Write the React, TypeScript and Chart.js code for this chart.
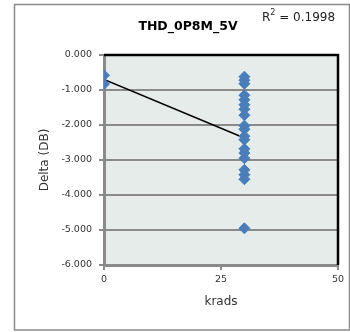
import React, { useEffect, useRef } from "react";
import { Chart, registerables } from "chart.js";

Chart.register(...registerables);

const chartTitle = "THD_0P8M_5V";
const r2Text = "0.1998";
const xAxisTitle = "krads";
const yAxisTitle = "Delta (DB)";

const kradsValues = [
  0, 0,
  30, 30, 30, 30, 30, 30, 30, 30, 30, 30, 30, 30, 30, 30, 30, 30, 30, 30, 30,
];
const deltaValues = [
  -0.58, -0.83,
  -0.62, -0.72, -0.82, -1.15, -1.28, -1.42, -1.55, -1.72, -2.02, -2.12, -2.32,
  -2.42, -2.68, -2.8, -2.95, -3.28, -3.42, -3.55, -4.95,
];

const trendKrads = [0, 30];
const trendDelta = [-0.7, -2.37];

const xMin = 0;
const xMax = 50;
const xStep = 25;
const yMin = -6;
const yMax = 0;
const yStep = 1;

const framePlugin = {
  id: "frame",
  beforeDraw(chart: any) {
    const { ctx, chartArea } = chart;
    ctx.save();
    ctx.fillStyle = "#ffffff";
    ctx.fillRect(0, 0, chart.width, chart.height);
    ctx.fillStyle = "#e6ecea";
    ctx.fillRect(chartArea.left, chartArea.top, chartArea.right - chartArea.left, chartArea.bottom - chartArea.top);
    ctx.strokeStyle = "#8a8a8a";
    ctx.lineWidth = 1.5;
    ctx.strokeRect(14.5, 4.5, 335, 325.5);
    ctx.restore();
  },
  beforeDatasetsDraw(chart: any) {
    const { ctx, chartArea } = chart;
    ctx.save();
    ctx.strokeStyle = "#000000";
    ctx.lineWidth = 2.5;
    ctx.beginPath();
    ctx.moveTo(chartArea.left, chartArea.top);
    ctx.lineTo(chartArea.right, chartArea.top);
    ctx.lineTo(chartArea.right, chartArea.bottom);
    ctx.stroke();
    ctx.restore();
  },
  afterDraw(chart: any) {
    const { ctx } = chart;
    ctx.save();
    ctx.fillStyle = "#000000";
    ctx.textBaseline = "middle";
    ctx.textAlign = "center";
    ctx.font = "bold 12.5px 'DejaVu Sans'";
    ctx.fillText(chartTitle, 188, 27);
    ctx.textAlign = "left";
    ctx.fillStyle = "#222222";
    ctx.font = "12px 'DejaVu Sans'";
    let x = 262;
    ctx.fillText("R", x, 18);
    x += ctx.measureText("R").width;
    ctx.font = "8px 'DejaVu Sans'";
    ctx.fillText("2", x, 13);
    x += ctx.measureText("2").width;
    ctx.font = "12px 'DejaVu Sans'";
    ctx.fillText(" = " + r2Text, x, 18);
    ctx.restore();
  },
};

export default function App() {
  const canvasRef = useRef<HTMLCanvasElement | null>(null);

  useEffect(() => {
    const canvas = canvasRef.current;
    if (!canvas) return;
    const points = kradsValues.map((x, i) => ({ x, y: deltaValues[i] }));
    const trend = trendKrads.map((x, i) => ({ x, y: trendDelta[i] }));
    const chart = new Chart(canvas, {
      type: "scatter",
      data: {
        datasets: [
          {
            label: "Delta",
            data: points,
            pointStyle: "rectRot",
            pointRadius: 5.5,
            backgroundColor: "#4a7ebb",
            borderColor: "#4a7ebb",
            borderWidth: 1,
            order: 1,
          },
          {
            label: "Trend",
            type: "line",
            data: trend,
            borderColor: "#000000",
            borderWidth: 1.5,
            pointRadius: 0,
            showLine: true,
            fill: false,
            order: 2,
          } as any,
        ],
      },
      options: {
        responsive: false,
        animation: false,
        devicePixelRatio: 1,
        layout: { padding: { left: 0, top: 55, right: 12, bottom: 0 } },
        plugins: {
          legend: { display: false },
          tooltip: { enabled: false },
        },
        scales: {
          x: {
            type: "linear",
            min: xMin,
            max: xMax,
            afterFit(scale: any) {
              scale.height = 67;
            },
            ticks: {
              stepSize: xStep,
              padding: 4,
              color: "#333333",
              font: { family: "'DejaVu Sans'", size: 9.5 },
            },
            grid: {
              drawOnChartArea: false,
              drawTicks: true,
              tickLength: 5,
              color: "#8a8a8a",
              lineWidth: 2,
            },
            border: { color: "#8a8a8a", width: 3 },
            title: {
              display: true,
              text: xAxisTitle,
              color: "#333333",
              font: { family: "'DejaVu Sans'", size: 12 },
              padding: { top: 0, bottom: 23 },
            },
          },
          y: {
            type: "linear",
            min: yMin,
            max: yMax,
            afterFit(scale: any) {
              scale.width = 104;
            },
            ticks: {
              stepSize: yStep,
              padding: 7,
              color: "#333333",
              font: { family: "'DejaVu Sans'", size: 9.5 },
              callback: (v: any) => Number(v).toFixed(3),
            },
            grid: {
              drawTicks: true,
              tickLength: 5,
              color: "#8a8a8a",
              lineWidth: 2,
            },
            border: { color: "#8a8a8a", width: 3 },
            title: {
              display: true,
              text: yAxisTitle,
              color: "#333333",
              font: { family: "'DejaVu Sans'", size: 12 },
              padding: { top: 38, bottom: 0 },
            },
          },
        },
      },
      plugins: [framePlugin],
    });
    return () => chart.destroy();
  }, []);

  return (
    <div style={{ position: "fixed", left: 0, top: 0, width: 350, height: 332, background: "#fff" }}>
      <canvas ref={canvasRef} width={350} height={332} style={{ display: "block" }} />
    </div>
  );
}
